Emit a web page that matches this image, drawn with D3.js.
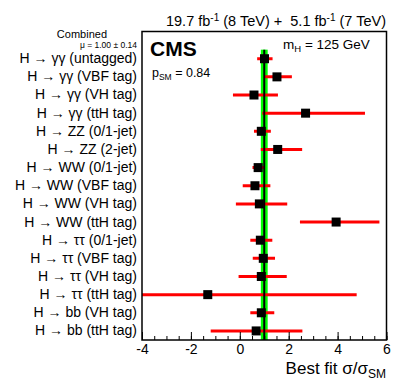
<!DOCTYPE html>
<html>
<head>
<meta charset="utf-8">
<script src="https://cdn.jsdelivr.net/npm/d3@7"></script>
<style>
  html, body { margin: 0; padding: 0; background: #fff; }
  svg { display: block; font-family: "Liberation Sans", Arial, Helvetica, sans-serif; }
</style>
</head>
<body>
<svg id="chart" width="407" height="391"></svg>
<script>
// ---- data ----
const channels = [
  "H \u2192 \u03b3\u03b3 (untagged)",
  "H \u2192 \u03b3\u03b3 (VBF tag)",
  "H \u2192 \u03b3\u03b3 (VH tag)",
  "H \u2192 \u03b3\u03b3 (ttH tag)",
  "H \u2192 ZZ (0/1-jet)",
  "H \u2192 ZZ (2-jet)",
  "H \u2192 WW (0/1-jet)",
  "H \u2192 WW (VBF tag)",
  "H \u2192 WW (VH tag)",
  "H \u2192 WW (ttH tag)",
  "H \u2192 \u03c4\u03c4 (0/1-jet)",
  "H \u2192 \u03c4\u03c4 (VBF tag)",
  "H \u2192 \u03c4\u03c4 (VH tag)",
  "H \u2192 \u03c4\u03c4 (ttH tag)",
  "H \u2192 bb (VH tag)",
  "H \u2192 bb (ttH tag)"
];
const mu   = [1.01, 1.52, 0.58, 2.69, 0.88, 1.55, 0.75, 0.62, 0.80, 3.94, 0.84, 0.96, 0.88, -1.31, 0.88, 0.67];
const muLo = [0.71, 1.03, -0.28, 0.92, 0.58, 0.86, 0.52, 0.12, -0.16, 2.46, 0.43, 0.53, -0.05, -6.8, 0.43, -1.19];
const muHi = [1.34, 2.13, 1.56, 5.12, 1.27, 2.55, 1.02, 1.25, 1.94, 5.71, 1.33, 1.44, 1.92, 4.78, 1.41, 2.56];
const combinedMu = 1.00;
const combinedErr = 0.14;
const xMajorTicks = [-4, -2, 0, 2, 4, 6];
const xMinorTicks = d3.range(-4, 6.001, 0.5);

// ---- layout ----
const L = 142, R = 386.5, T = 31.5, B = 340;
const svg = d3.select("#chart");
const x = d3.scaleLinear().domain([-4, 6]).range([L, R]);
const y = d3.scaleBand().domain(["__top__"].concat(channels)).range([T, B]).padding(0);
const rows = channels.map((c, i) => ({ c, v: mu[i], lo: muLo[i], hi: muHi[i] }));

svg.append("defs").append("clipPath").attr("id", "frameClip")
  .append("rect").attr("x", L).attr("y", T).attr("width", R - L).attr("height", B - T);

const plot = svg.append("g").attr("clip-path", "url(#frameClip)");

// green band (combined)
const bandTop = y(channels[0]);
plot.append("rect")
  .attr("x", x(combinedMu - combinedErr))
  .attr("width", x(combinedMu + combinedErr) - x(combinedMu - combinedErr))
  .attr("y", bandTop).attr("height", B - bandTop)
  .attr("fill", "#00ff00");

// error bars
plot.selectAll("line.err").data(rows).enter().append("line")
  .attr("class", "err")
  .attr("x1", d => x(d.lo)).attr("x2", d => x(d.hi))
  .attr("y1", d => y(d.c) + y.bandwidth() / 2).attr("y2", d => y(d.c) + y.bandwidth() / 2)
  .attr("stroke", "#ff0000").attr("stroke-width", 3);

// combined line
plot.append("line")
  .attr("x1", x(combinedMu)).attr("x2", x(combinedMu))
  .attr("y1", bandTop).attr("y2", B)
  .attr("stroke", "#000").attr("stroke-width", 2);

// markers
const ms = 9;
plot.selectAll("rect.mk").data(rows).enter().append("rect")
  .attr("class", "mk")
  .attr("x", d => x(d.v) - ms / 2).attr("y", d => y(d.c) + y.bandwidth() / 2 - ms / 2)
  .attr("width", ms).attr("height", ms).attr("fill", "#000");

// x axis: minor ticks
const gMinor = svg.append("g").attr("transform", `translate(0,${B})`)
  .call(d3.axisBottom(x).tickValues(xMinorTicks).tickSize(-4).tickFormat(""));
gMinor.select(".domain").remove();
gMinor.selectAll("line").attr("stroke", "#000").attr("stroke-width", 1);

// x axis: major ticks + labels
const gMajor = svg.append("g").attr("transform", `translate(0,${B})`)
  .call(d3.axisBottom(x).tickValues(xMajorTicks).tickSize(-8).tickPadding(4).tickFormat(d => String(d)));
gMajor.select(".domain").remove();
gMajor.selectAll("line").attr("stroke", "#000").attr("stroke-width", 1);
gMajor.selectAll("text").attr("font-size", 14).attr("fill", "#000")
  .attr("font-family", "'Liberation Sans', Arial, sans-serif");

// y axis labels
const gy = svg.append("g").attr("transform", `translate(${L},0)`)
  .call(d3.axisLeft(y).tickValues(channels).tickSize(0).tickPadding(5));
gy.select(".domain").remove();
gy.selectAll("text").attr("font-size", 14).attr("fill", "#000")
  .attr("font-family", "'Liberation Sans', Arial, sans-serif");

// frame
svg.append("rect").attr("x", L).attr("y", T).attr("width", R - L).attr("height", B - T)
  .attr("fill", "none").attr("stroke", "#000").attr("stroke-width", 1.5);

// texts
const title = svg.append("text").attr("x", 386).attr("y", 26).attr("text-anchor", "end")
  .attr("font-size", 14.5).style("white-space", "pre");
title.append("tspan").text("19.7 fb");
title.append("tspan").attr("font-size", 10).attr("dy", -5.5).text("-1");
title.append("tspan").attr("dy", 5.5).text(" (8 TeV) +\u00a0\u00a05.1 fb");
title.append("tspan").attr("font-size", 10).attr("dy", -5.5).text("-1");
title.append("tspan").attr("dy", 5.5).text(" (7 TeV)");

svg.append("text").attr("x", 150).attr("y", 56).attr("font-size", 21).attr("font-weight", "bold").text("CMS");

const psm = svg.append("text").attr("x", 152).attr("y", 77).attr("font-size", 12.5);
psm.append("tspan").text("p");
psm.append("tspan").attr("font-size", 8.5).attr("dy", 3).text("SM");
psm.append("tspan").attr("dy", -3).text(" = 0.84");

const mh = svg.append("text").attr("x", 283).attr("y", 48.5).attr("font-size", 13.5);
mh.append("tspan").text("m");
mh.append("tspan").attr("font-size", 9.5).attr("dy", 3).text("H");
mh.append("tspan").attr("dy", -3).text(" = 125 GeV");

svg.append("text").attr("x", 107).attr("y", 37.5).attr("text-anchor", "end").attr("font-size", 11).text("Combined");
svg.append("text").attr("x", 137).attr("y", 47.5).attr("text-anchor", "end").attr("font-size", 8.5)
  .text(`\u03bc = ${combinedMu.toFixed(2)} \u00b1 ${combinedErr.toFixed(2)}`);

const xt = svg.append("text").attr("x", 386).attr("y", 374).attr("text-anchor", "end").attr("font-size", 17);
xt.append("tspan").text("Best fit \u03c3/\u03c3");
xt.append("tspan").attr("font-size", 12).attr("dy", 4).text("SM");
</script>
</body>
</html>
